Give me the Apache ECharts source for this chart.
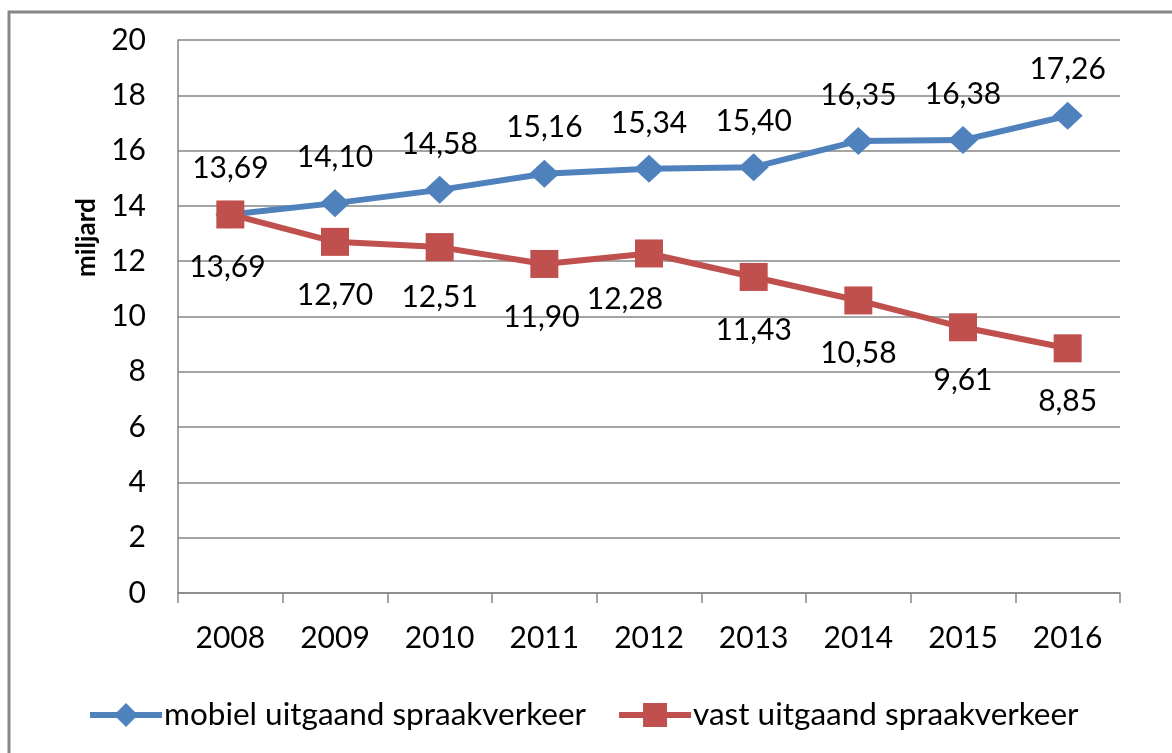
<!DOCTYPE html>
<html>
<head>
<meta charset="utf-8">
<script src="https://cdn.jsdelivr.net/npm/echarts@6/dist/echarts.min.js"></script>
<style>
    html, body { margin: 0; padding: 0; background: #fff; }
    #chart { width: 1172px; height: 753px; }
</style>
</head>
<body>
<div id="chart"></div>
<script>
var years = ['2008', '2009', '2010', '2011', '2012', '2013', '2014', '2015', '2016'];
var mobiel = [13.69, 14.10, 14.58, 15.16, 15.34, 15.40, 16.35, 16.38, 17.26];
var vast = [13.69, 12.70, 12.51, 11.90, 12.28, 11.43, 10.58, 9.61, 8.85];

// label nudges for the red series, as in the original
var vastLabelOffsets = [[-3, 0], [0, 0], [0, -3], [-3, 0], [-24, -7], [0, 0], [0, 0], [0, 0], [0, 0]];

var FONT = 'Lato';
var fmt = function (p) { return p.value.toFixed(2).replace('.', ','); };

var chart = echarts.init(document.getElementById('chart'));

chart.setOption({
    animation: false,
    textStyle: { fontFamily: FONT },
    graphic: [{
        type: 'rect',
        shape: { x: 9, y: 12, width: 1200, height: 800 },
        style: { fill: 'none', stroke: '#878787', lineWidth: 3 },
        z: 10
    }, {
        type: 'text',
        x: 74,
        y: 277,
        rotation: Math.PI / 2,
        style: {
            text: 'miljard',
            font: 'bold 26px Lato',
            fill: '#000'
        }
    }],
    grid: { left: 178, top: 40, right: 52, bottom: 160, containLabel: false },
    legend: {
        left: 82,
        top: 694,
        itemWidth: 72,
        itemHeight: 30,
        itemGap: 30,
        lineStyle: { width: 6 },
        textStyle: { fontFamily: FONT, fontSize: 31.5, color: '#000', padding: [0, 0, 0, -3] },
        data: ['mobiel uitgaand spraakverkeer', 'vast uitgaand spraakverkeer']
    },
    xAxis: {
        type: 'category',
        data: years,
        boundaryGap: true,
        axisLine: { lineStyle: { color: '#868686', width: 1.5 } },
        axisTick: { show: true, length: 10, lineStyle: { color: '#868686', width: 1.5 } },
        axisLabel: { margin: 30, fontSize: 30, color: '#000', fontFamily: FONT },
        splitLine: { show: false }
    },
    yAxis: {
        type: 'value',
        min: 0,
        max: 20,
        interval: 2,
        axisLine: { show: true, lineStyle: { color: '#868686', width: 1.5 } },
        axisTick: { show: false },
        axisLabel: { margin: 32, fontSize: 30, color: '#000', fontFamily: FONT },
        splitLine: { lineStyle: { color: '#868686', width: 1.5 } }
    },
    series: [{
        name: 'mobiel uitgaand spraakverkeer',
        type: 'line',
        data: mobiel,
        symbol: 'diamond',
        symbolSize: [30, 28],
        lineStyle: { color: '#4F81BD', width: 6 },
        itemStyle: { color: '#4F81BD' },
        label: {
            show: true,
            position: 'top',
            distance: 17,
            fontSize: 30,
            color: '#000',
            fontFamily: FONT,
            formatter: fmt
        }
    }, {
        name: 'vast uitgaand spraakverkeer',
        type: 'line',
        data: vast.map(function (v, i) {
            return { value: v, label: { offset: vastLabelOffsets[i] } };
        }),
        symbol: 'rect',
        symbolSize: 28,
        lineStyle: { color: '#C0504D', width: 6 },
        itemStyle: { color: '#C0504D' },
        label: {
            show: true,
            position: 'bottom',
            distance: 24,
            fontSize: 30,
            color: '#000',
            fontFamily: FONT,
            formatter: fmt
        }
    }]
});
</script>
</body>
</html>
